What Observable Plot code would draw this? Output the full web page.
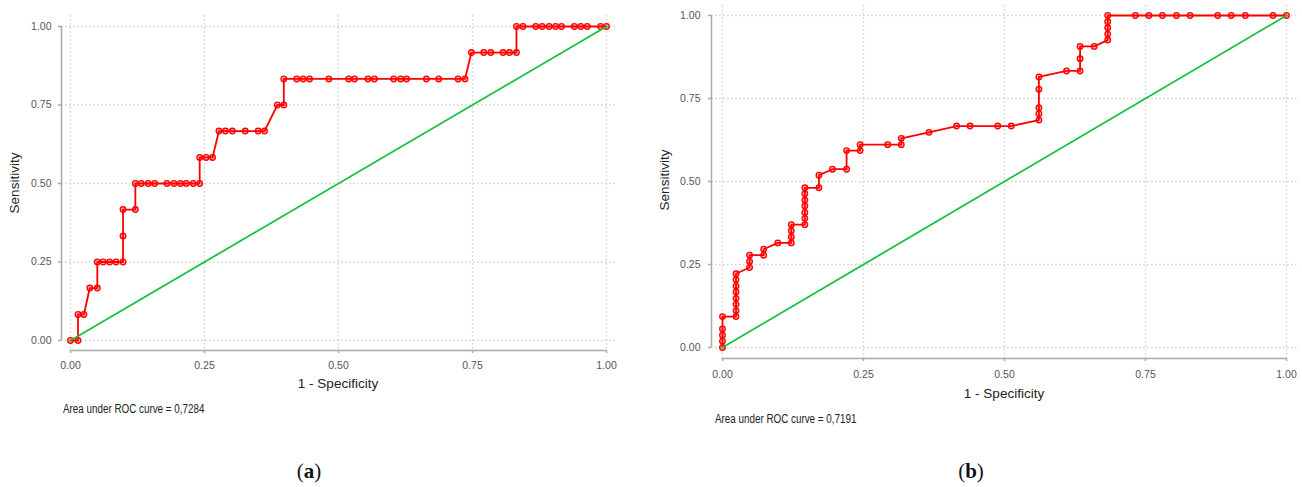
<!DOCTYPE html>
<html><head><meta charset="utf-8">
<script src="https://cdn.jsdelivr.net/npm/d3@7"></script>
<script src="https://cdn.jsdelivr.net/npm/@observablehq/plot@0.6"></script>
<style>
body{margin:0;background:#fff;}
#wrap{position:relative;width:1302px;height:487px;overflow:hidden;font-family:"Liberation Sans",Arial,sans-serif;background:#fff;}
.abs{position:absolute;white-space:nowrap;line-height:1;}
.c{transform:translate(-50%,-50%);}
.ttl{font-size:13.5px;color:#222;}
.rot{transform:translate(-50%,-50%) rotate(-90deg);}
.auc{font-family:"Liberation Sans",Arial,sans-serif;font-size:12px;color:#222;transform-origin:0 50%;transform:translateY(-50%) scaleX(0.82);}
.cap{font-family:"Liberation Serif","DejaVu Serif",serif;font-size:21px;color:#111;}
.panel{position:absolute;top:0;}
</style></head><body><div id="wrap"></div>
<script>
// tick values and labels
const ticks = [0, 0.25, 0.5, 0.75, 1];
const tickLabels = ["0.00", "0.25", "0.50", "0.75", "1.00"];
const diagonal = [0, 1];

// panel (a): 1 - Specificity / Sensitivity
const aFpr = [0,0.014,0.014,0.025,0.036,0.05,0.05,0.061,0.073,0.085,0.098,0.098,0.098,0.121,0.121,0.132,0.145,0.157,0.18,0.193,0.205,0.216,0.229,0.241,0.241,0.253,0.265,0.277,0.289,0.302,0.326,0.35,0.362,0.386,0.398,0.398,0.422,0.434,0.446,0.482,0.519,0.53,0.555,0.567,0.603,0.616,0.627,0.664,0.687,0.723,0.736,0.748,0.771,0.784,0.807,0.819,0.832,0.832,0.844,0.868,0.88,0.893,0.905,0.916,0.94,0.952,0.964,0.989,1];
const aTpr = [0,0,0.083,0.083,0.167,0.167,0.25,0.25,0.25,0.25,0.25,0.333,0.417,0.417,0.5,0.5,0.5,0.5,0.5,0.5,0.5,0.5,0.5,0.5,0.583,0.583,0.583,0.667,0.667,0.667,0.667,0.667,0.667,0.75,0.75,0.833,0.833,0.833,0.833,0.833,0.833,0.833,0.833,0.833,0.833,0.833,0.833,0.833,0.833,0.833,0.833,0.917,0.917,0.917,0.917,0.917,0.917,1,1,1,1,1,1,1,1,1,1,1,1];

// panel (b)
const bFpr = [0,0,0,0,0,0.024,0.024,0.024,0.024,0.024,0.024,0.024,0.024,0.048,0.048,0.048,0.073,0.073,0.098,0.122,0.122,0.122,0.122,0.146,0.146,0.146,0.146,0.146,0.146,0.146,0.171,0.171,0.195,0.22,0.22,0.244,0.244,0.293,0.317,0.317,0.366,0.415,0.439,0.488,0.512,0.561,0.561,0.561,0.561,0.561,0.61,0.634,0.634,0.634,0.659,0.683,0.683,0.683,0.683,0.683,0.732,0.756,0.78,0.805,0.829,0.878,0.902,0.927,0.976,1];
const bTpr = [0,0.019,0.037,0.056,0.093,0.093,0.111,0.13,0.148,0.167,0.185,0.204,0.222,0.241,0.259,0.278,0.278,0.296,0.315,0.315,0.333,0.352,0.37,0.37,0.389,0.407,0.426,0.444,0.463,0.481,0.481,0.519,0.537,0.537,0.593,0.593,0.611,0.611,0.611,0.63,0.648,0.667,0.667,0.667,0.667,0.685,0.704,0.722,0.778,0.815,0.833,0.833,0.87,0.907,0.907,0.926,0.944,0.963,0.981,1,1,1,1,1,1,1,1,1,1,1];

const aucA = "Area under ROC curve = 0,7284";
const aucB = "Area under ROC curve = 0,7191";
const xTitle = "1 - Specificity";
const yTitle = "Sensitivity";

function panel(fpr, tpr, g) {
  const pts = fpr.map((x, i) => ({fpr: x, tpr: tpr[i]}));
  const diag = diagonal.map(v => ({fpr: v, tpr: v}));
  const fmt = d => tickLabels[ticks.indexOf(d)];
  const grid = {stroke: "#cfcfcf", strokeOpacity: 1, strokeWidth: 1.4, strokeDasharray: "1.5,2.5"};
  const axisCol = "#a9a9a9";
  return Plot.plot({
    width: g.w, height: g.h,
    marginLeft: g.ml, marginRight: g.mr, marginTop: g.mt, marginBottom: g.mb,
    insetLeft: g.il, insetRight: g.ir, insetTop: g.it, insetBottom: g.ib,
    x: {domain: [0, 1], label: null},
    y: {domain: [0, 1], label: null},
    style: {background: "transparent", overflow: "visible", fontFamily: "'Liberation Sans', Arial, sans-serif"},
    marks: [
      Plot.gridX(ticks, grid),
      Plot.gridY(ticks, grid),
      Plot.ruleY([0], {x1: 0, x2: 1, dy: g.ib, stroke: axisCol, strokeWidth: 1.5}),
      Plot.ruleX([0], {y1: 0, y2: 1, dx: -g.il, stroke: axisCol, strokeWidth: 1.5}),
      Plot.axisX(ticks, {tickFormat: fmt, tickSize: 3, tickPadding: g.xpad, stroke: axisCol, strokeWidth: 1.5, fill: "#555", fontSize: 10.5, label: null}),
      Plot.axisY(ticks, {tickFormat: fmt, tickSize: 3, tickPadding: g.ypad, stroke: axisCol, strokeWidth: 1.5, fill: "#555", fontSize: 10.5, label: null}),
      Plot.line(pts, {x: "fpr", y: "tpr", stroke: "#ff0000", strokeWidth: 1.8}),
      Plot.dot(pts, {x: "fpr", y: "tpr", r: 2.8, stroke: "#ff0000", strokeWidth: 1.3, fill: "#ff0000", fillOpacity: 0.3}),
      Plot.line(diag, {x: "fpr", y: "tpr", stroke: "#18c23c", strokeWidth: 1.8})
    ]
  });
}

const wrap = document.getElementById("wrap");
function addPanel(svg, left) {
  const d = document.createElement("div");
  d.className = "panel"; d.style.left = left + "px";
  d.appendChild(svg); wrap.appendChild(d);
}
addPanel(panel(aFpr, aTpr, {w: 640, h: 400, ml: 61, mr: 25, mt: 15, mb: 50, il: 9, ir: 9, it: 11, ib: 10, xpad: 8, ypad: 7}), 0);
addPanel(panel(bFpr, bTpr, {w: 662, h: 400, ml: 71, mr: 4, mt: 5, mb: 42, il: 11, ir: 12, it: 10, ib: 11, xpad: 9, ypad: 8}), 640);

function addText(txt, cls, left, top, html) {
  const d = document.createElement("div");
  d.className = "abs " + cls;
  d.style.left = left + "px"; d.style.top = top + "px";
  if (html) d.innerHTML = txt; else d.textContent = txt;
  wrap.appendChild(d);
}
addText(yTitle, "ttl rot", 15, 183);
addText(xTitle, "ttl c", 338, 384);
addText(aucA, "auc", 63, 409);
addText("(<b>a</b>)", "cap c", 309, 471, true);
addText(yTitle, "ttl rot", 665, 180);
addText(xTitle, "ttl c", 1004, 394);
addText(aucB, "auc", 715, 419);
addText("(<b>b</b>)", "cap c", 971, 471, true);
</script></body></html>
